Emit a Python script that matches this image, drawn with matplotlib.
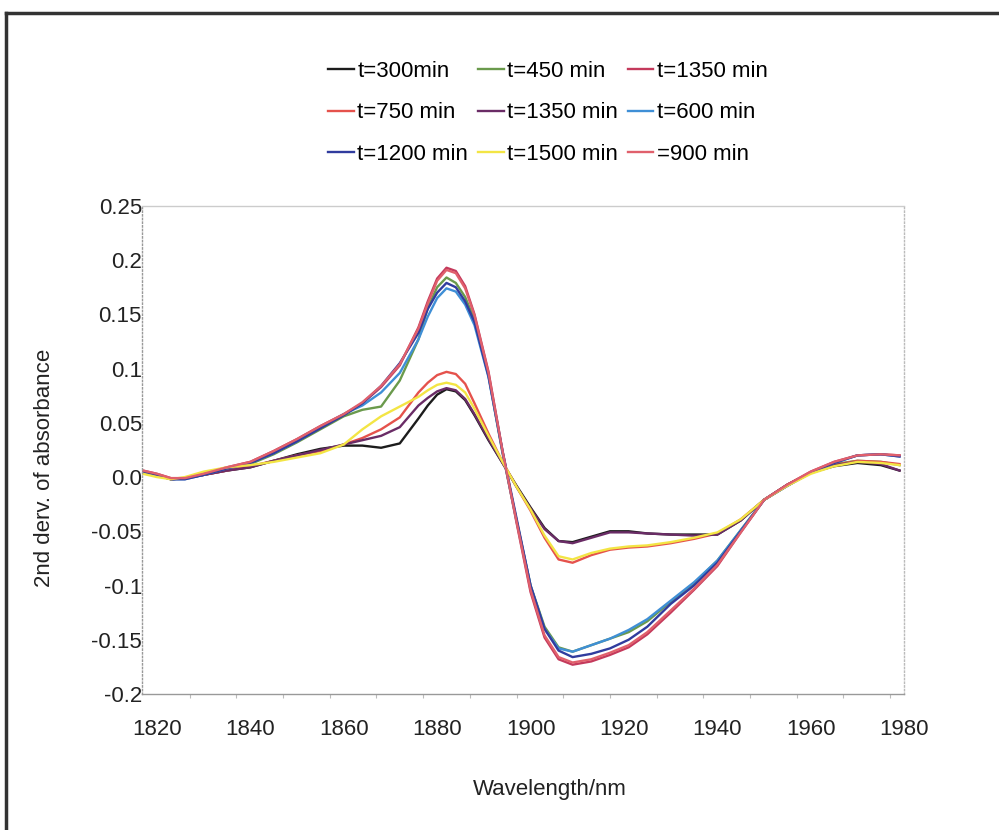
import matplotlib
matplotlib.use("Agg")
import matplotlib.pyplot as plt
from matplotlib.lines import Line2D

plt.rcParams['font.family'] = ['Liberation Sans', 'DejaVu Sans']
plt.rcParams['font.size'] = 16

# Wavelength grid (nm)
wavelength = [1817, 1820, 1823, 1826, 1830, 1835, 1840, 1845, 1850, 1855,
              1860, 1864, 1868, 1872, 1876, 1878, 1880, 1882, 1884, 1886, 1888, 1891,
              1894, 1897, 1900, 1903, 1906, 1909, 1913, 1917, 1921, 1925,
              1930, 1935, 1940, 1945, 1950, 1955, 1960, 1965, 1970, 1975, 1979]

# 2nd derivative spectra at each reaction time
t300 = [0.005, 0.002, -0.002, -0.001, 0.002, 0.006, 0.009, 0.015, 0.021, 0.026,
        0.029, 0.029, 0.027, 0.031, 0.054, 0.066, 0.076, 0.081, 0.079, 0.071, 0.057, 0.034,
        0.013, -0.008, -0.028, -0.047, -0.059, -0.060, -0.055, -0.050, -0.050, -0.052,
        -0.053, -0.053, -0.053, -0.040, -0.021, -0.007, 0.004, 0.010, 0.013, 0.011, 0.006]
t450 = [0.005, 0.002, -0.002, -0.001, 0.003, 0.008, 0.012, 0.021, 0.032, 0.044,
        0.056, 0.062, 0.065, 0.089, 0.127, 0.156, 0.175, 0.184, 0.179, 0.166, 0.145, 0.094,
        0.022, -0.040, -0.100, -0.138, -0.157, -0.161, -0.155, -0.149, -0.143, -0.133,
        -0.115, -0.098, -0.077, -0.049, -0.021, -0.008, 0.004, 0.012, 0.015, 0.014, 0.011]
t1350a = [0.006, 0.003, -0.001, -0.001, 0.003, 0.009, 0.014, 0.024, 0.035, 0.047,
          0.058, 0.068, 0.083, 0.103, 0.138, 0.162, 0.183, 0.193, 0.190, 0.176, 0.150, 0.097,
          0.024, -0.042, -0.106, -0.148, -0.168, -0.173, -0.170, -0.164, -0.157, -0.145,
          -0.125, -0.104, -0.082, -0.051, -0.021, -0.007, 0.005, 0.014, 0.020, 0.021, 0.020]
t750 = [0.005, 0.002, -0.002, -0.001, 0.002, 0.006, 0.010, 0.015, 0.020, 0.024,
        0.030, 0.036, 0.044, 0.055, 0.078, 0.087, 0.094, 0.097, 0.095, 0.086, 0.068, 0.040,
        0.014, -0.009, -0.031, -0.056, -0.076, -0.079, -0.072, -0.067, -0.065, -0.064,
        -0.061, -0.057, -0.052, -0.039, -0.021, -0.007, 0.004, 0.011, 0.015, 0.014, 0.012]
t1350b = [0.005, 0.002, -0.002, -0.001, 0.002, 0.006, 0.009, 0.015, 0.020, 0.025,
          0.030, 0.034, 0.038, 0.046, 0.066, 0.073, 0.079, 0.082, 0.080, 0.072, 0.058, 0.035,
          0.013, -0.009, -0.029, -0.048, -0.059, -0.061, -0.056, -0.051, -0.051, -0.052,
          -0.053, -0.054, -0.053, -0.040, -0.021, -0.007, 0.004, 0.011, 0.014, 0.012, 0.006]
t600 = [0.005, 0.002, -0.002, -0.002, 0.002, 0.008, 0.013, 0.022, 0.033, 0.046,
        0.058, 0.066, 0.078, 0.096, 0.127, 0.148, 0.165, 0.174, 0.171, 0.159, 0.140, 0.092,
        0.023, -0.040, -0.100, -0.140, -0.158, -0.161, -0.155, -0.149, -0.141, -0.131,
        -0.114, -0.097, -0.077, -0.049, -0.021, -0.008, 0.004, 0.013, 0.020, 0.021, 0.019]
t1200 = [0.005, 0.002, -0.002, -0.002, 0.002, 0.008, 0.013, 0.022, 0.033, 0.045,
         0.057, 0.068, 0.084, 0.105, 0.133, 0.155, 0.170, 0.179, 0.175, 0.162, 0.143, 0.093,
         0.024, -0.038, -0.100, -0.140, -0.160, -0.166, -0.163, -0.158, -0.150, -0.138,
         -0.117, -0.100, -0.079, -0.050, -0.021, -0.008, 0.004, 0.013, 0.020, 0.021, 0.019]
t1500 = [0.003, 0.000, -0.002, 0.000, 0.005, 0.009, 0.011, 0.014, 0.018, 0.022,
         0.030, 0.044, 0.056, 0.065, 0.074, 0.080, 0.085, 0.087, 0.085, 0.078, 0.063, 0.038,
         0.014, -0.009, -0.030, -0.054, -0.073, -0.076, -0.070, -0.066, -0.064, -0.063,
         -0.060, -0.056, -0.051, -0.039, -0.021, -0.008, 0.003, 0.010, 0.014, 0.013, 0.011]
t900 = [0.006, 0.003, -0.001, -0.001, 0.003, 0.009, 0.014, 0.024, 0.035, 0.047,
        0.058, 0.069, 0.084, 0.104, 0.137, 0.160, 0.181, 0.191, 0.188, 0.174, 0.149, 0.096,
        0.024, -0.041, -0.104, -0.146, -0.166, -0.171, -0.168, -0.162, -0.155, -0.143,
        -0.123, -0.103, -0.081, -0.051, -0.021, -0.007, 0.005, 0.014, 0.020, 0.021, 0.020]

series = [
    ('t=300min', t300, '#1c1c1c'),
    ('t=450 min', t450, '#6a9a4c'),
    ('t=1350 min', t1350a, '#c43a5c'),
    ('t=750 min', t750, '#e5524c'),
    ('t=1350 min', t1350b, '#6a2c66'),
    ('t=600 min', t600, '#3f8fd6'),
    ('t=1200 min', t1200, '#303c9e'),
    ('t=1500 min', t1500, '#f3e544'),
    ('=900 min', t900, '#e0606c'),
]

y_ticks = [0.25, 0.2, 0.15, 0.1, 0.05, 0.0, -0.05, -0.1, -0.15, -0.2]
y_labels = ['0.25', '0.2', '0.15', '0.1', '0.05', '0.0', '-0.05', '-0.1', '-0.15', '-0.2']
x_ticks = [1820, 1840, 1860, 1880, 1900, 1920, 1940, 1960, 1980]

fig = plt.figure(figsize=(9.99, 8.30), dpi=100)
ax = fig.add_axes([0.1421, 0.1639, 0.763, 0.588])

lines = []
for label, vals, color in series:
    ln, = ax.plot(wavelength, vals, color=color, linewidth=1.7, label=label)
    lines.append(ln)

ax.set_xlim(1816.8, 1980)
ax.set_ylim(-0.2, 0.25)
ax.set_yticks(y_ticks)
ax.set_yticklabels(y_labels)
ax.set_xticks(x_ticks)
ax.set_xticks(range(1827, 1980, 10), minor=True)
ax.tick_params(axis='y', length=0, pad=0, labelsize=16, colors='#222222')
ax.tick_params(axis='x', which='major', length=0, pad=18, labelsize=16, colors='#222222')
ax.tick_params(axis='x', which='minor', length=3, width=0.8, color='#bbbbbb', direction='out')

ax.spines['left'].set_linestyle(':')
ax.spines['left'].set_color('#999999')
ax.spines['right'].set_linestyle(':')
ax.spines['right'].set_color('#bbbbbb')
ax.spines['top'].set_color('#cccccc')
ax.spines['bottom'].set_color('#999999')
for sp in ax.spines.values():
    sp.set_linewidth(1.0)

fig.text(550 / 999, 1 - 789 / 830, 'Wavelength/nm', ha='center', va='center',
         fontsize=16, color='#222222')
fig.text(45 / 999, 1 - 468 / 830, '2nd derv. of absorbance', ha='center', va='center',
         rotation=90, fontsize=16, color='#222222')

# legend filled column by column, so reorder to read across the rows
order = [0, 3, 6, 1, 4, 7, 2, 5, 8]
fig.legend([lines[i] for i in order], [series[i][0] for i in order],
           loc='center', bbox_to_anchor=(548 / 999, 1 - 113 / 830), ncol=3,
           frameon=False, fontsize=16, handlelength=1.15, handletextpad=0.15,
           columnspacing=0.45, labelspacing=0.92, borderpad=0)

# chart area border
fig.add_artist(Line2D([6 / 999, 1.0], [1 - 13 / 830, 1 - 13 / 830],
                      transform=fig.transFigure, color='#333333', linewidth=2.5))
fig.add_artist(Line2D([6 / 999, 6 / 999], [0.0, 1 - 13 / 830],
                      transform=fig.transFigure, color='#333333', linewidth=2.5))

fig.savefig('out.png', dpi=100)
